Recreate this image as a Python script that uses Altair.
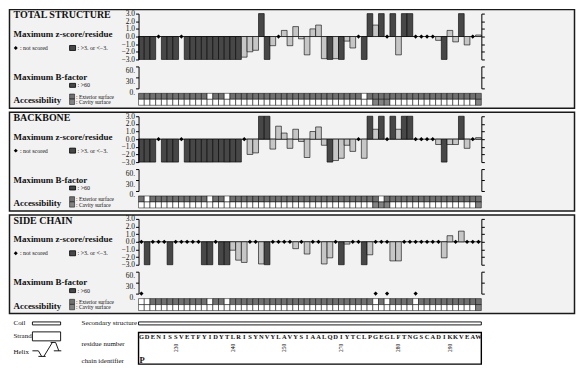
import altair as alt
import pandas as pd

# ---------------- data ----------------
residues = list("GDENISSVETFYIDYTLRISYNVYLAVYSIAALQDIYTCLPGEGLFTNGSCADIKKVEAW")
N = len(residues)

# maximum z-score per residue (None = not scored)
z_total = [-3, -3, -3, None, -3, -3, -3, None,
           -3, -3, -3, -3, -3, -3, -3, -3, -3, -3,
           -2.7, -2.0, -1.8, 3, -3, -1.2, None, 0.8, -1.2, 1.3,
           -0.3, -2.4, 1.0, 1.5, -2.9, -3, -2.9, -3, -0.6, -1.5,
           None, -3, 3, 1.5, 3, None, 3, -2.4, 3, 3,
           None, None, None, None, -0.5, -3, 0.8, -0.7, 3, -1.1, None, 0.2]
z_backbone = [-3, -3, -3, None, -3, -3, -3, None,
              -3, -3, -3, -3, -3, -3, -3, -3, -3, -3,
              None, -2.0, -1.8, 3, 3, -1.3, 1.7, 0.8, -1.2, 1.3,
              -0.3, -2.4, 1.0, 1.6, -0.8, -3, -2.8, -2.5, -0.8, -1.6,
              None, -2.5, 3, 1.3, 3, None, 3, 1.3, 3, 3,
              None, None, None, None, -0.7, -3, -0.7, -0.7, 3, -1.2, None, 0.2]
z_side = [None, -3, None, None, None, -3, None, None, None, None,
          None, -3, -3, None, -3, -3, -1.1, -2.4, -2.7, None,
          None, -2.9, -3, None, None, None, None, -0.9, None, -1.6,
          None, None, -2.9, -2.1, None, -3, -0.3, None, None, -3,
          -1.7, None, None, None, -2.5, -2.5, None, None, None, None,
          None, None, None, -2.1, 0.8, None, 1.4, None, None, None]

# B-factor not scored (side chain of glycines)
bfac_missing_total = []
bfac_missing_backbone = []
bfac_missing_side = [0, 41, 43, 48]

# accessibility flags (1 = exterior surface / cavity surface)
ext_total = [1, 1, 1, 1, 1, 1, 1, 1, 1, 1,
             1, 1, 0, 1, 1, 0, 1, 1, 1, 1,
             1, 1, 1, 1, 1, 1, 1, 1, 1, 1,
             1, 1, 1, 1, 1, 1, 1, 1, 1, 0,
             1, 1, 1, 1, 1, 1, 1, 1, 1, 1,
             1, 1, 1, 1, 1, 1, 1, 1, 1, 1]
cav_total = [0, 0, 0, 0, 0, 0, 0, 0, 0, 0,
             0, 0, 0, 0, 0, 0, 0, 0, 0, 0,
             0, 0, 0, 0, 0, 0, 0, 0, 0, 0,
             0, 0, 0, 0, 0, 0, 0, 0, 0, 0,
             0, 1, 1, 1, 0, 0, 0, 0, 0, 0,
             0, 0, 0, 0, 0, 0, 0, 0, 0, 1]
ext_backbone = [1, 0, 1, 1, 1, 1, 1, 1, 1, 1,
                1, 1, 0, 1, 1, 0, 1, 1, 1, 1,
                1, 1, 1, 1, 1, 1, 1, 1, 1, 1,
                1, 1, 1, 1, 1, 1, 1, 1, 1, 1,
                1, 1, 0, 1, 1, 1, 1, 1, 1, 1,
                1, 1, 1, 1, 1, 1, 1, 1, 1, 1]
cav_backbone = [0, 0, 0, 0, 0, 0, 0, 0, 0, 0,
                0, 0, 0, 0, 0, 0, 0, 0, 0, 0,
                0, 0, 0, 0, 0, 0, 0, 0, 0, 0,
                0, 0, 0, 0, 0, 0, 0, 0, 0, 0,
                0, 1, 1, 1, 0, 0, 0, 0, 0, 0,
                0, 0, 0, 0, 0, 0, 0, 0, 0, 1]
ext_side = [0, 0, 1, 1, 1, 1, 1, 1, 1, 1,
            1, 1, 0, 1, 1, 0, 1, 1, 1, 1,
            1, 1, 1, 1, 1, 1, 1, 1, 1, 1,
            1, 1, 1, 1, 1, 1, 1, 1, 1, 1,
            1, 0, 1, 0, 1, 1, 1, 1, 0, 1,
            1, 1, 1, 1, 1, 1, 1, 1, 1, 1]
cav_side = [0, 0, 0, 0, 0, 0, 0, 0, 0, 0,
            0, 0, 0, 0, 0, 0, 0, 0, 0, 0,
            0, 0, 0, 0, 0, 0, 0, 0, 0, 0,
            0, 0, 0, 0, 0, 0, 0, 0, 0, 0,
            0, 0, 0, 0, 0, 0, 0, 0, 0, 0,
            0, 0, 0, 0, 0, 0, 0, 0, 0, 1]

# secondary structure segments (whole chain is coil)
ss_type = ["coil"]
ss_start = [0]
ss_end = [60]

# residue-number labels and the residue index they sit on
res_label_text = ["230", "240", "250", "270", "280", "290"]
res_label_index = [6, 16, 25, 35, 45, 54]
chain_id = "P"

# ---------------- styling ----------------
FONT = "Liberation Serif"
W = 344
ZH, BH, AH = 46, 22, 12
DARK, LIGHT = "#474747", "#c6c6c6"
EXT, CAV = "#707070", "#828282"
PANEL = "#f2f2f2"
INK = "#111111"

one = pd.DataFrame({"k": [0]})
xs = alt.Scale(domain=[0, N], nice=False, zero=False)


def vtext(s, x, y, size, bold=False, baseline="middle", align="left", angle=0):
    return alt.Chart(one).mark_text(
        text=s, align=align, baseline=baseline, font=FONT, fontSize=size,
        fontWeight="bold" if bold else "normal", color=INK, angle=angle
    ).encode(x=alt.value(x), y=alt.value(y))


def vrect(x, x2, y, y2, fill, stroke="black", sw=0.8):
    return alt.Chart(one).mark_rect(fill=fill, stroke=stroke, strokeWidth=sw).encode(
        x=alt.value(x), x2=alt.value(x2), y=alt.value(y), y2=alt.value(y2))


def vseg(x, x2, y, y2, sw=0.9):
    return alt.Chart(one).mark_rule(color="black", strokeWidth=sw).encode(
        x=alt.value(x), x2=alt.value(x2), y=alt.value(y), y2=alt.value(y2))


def spacer(h):
    return alt.Chart(one).mark_point(opacity=0).encode(
        x=alt.value(0), y=alt.value(0)).properties(width=W, height=h)


def axis_kw():
    return dict(title=None, grid=False, labelFont=FONT, labelColor=INK,
                tickColor="black", domainColor="black", tickSize=3,
                labelPadding=1, labelOverlap=False, zindex=1)


TX = -125.5


def z_chart(title, zvals):
    df = pd.DataFrame({"x0": list(range(N)), "z": zvals})
    df["x1"] = df["x0"] + 1
    df["xc"] = df["x0"] + 0.5
    df["zero"] = 0.0
    base = alt.Chart(df)
    ys = alt.Scale(domain=[-3, 3], nice=False, zero=False)
    ticks = [-3, -2, -1, 0, 1, 2, 3]
    left = alt.Axis(orient="left", values=ticks, format=".1f", labelFontSize=7.5, **axis_kw())
    right = alt.Axis(orient="right", values=ticks, labels=False, **axis_kw())
    X = lambda f: alt.X(f, scale=xs, axis=None)

    box = vrect(-129.5, 437.5, -4, 95, PANEL, "#1a1a1a", 1.5)
    zero = base.mark_rule(color="black", strokeWidth=0.8).encode(
        x=X("x0:Q"), x2="x1:Q", y=alt.Y("zero:Q", scale=ys, axis=None))
    bars = base.transform_filter("isValid(datum.z)").mark_rect(
        stroke="black", strokeWidth=0.6).encode(
        x=X("x0:Q"), x2="x1:Q",
        y=alt.Y("z:Q", scale=ys, axis=left), y2="zero:Q",
        fill=alt.condition("abs(datum.z) >= 3", alt.value(DARK), alt.value(LIGHT)))
    diam = base.transform_filter("!isValid(datum.z)").mark_point(
        shape="diamond", filled=True, color="black", size=18, opacity=1).encode(
        x=X("xc:Q"), y=alt.Y("zero:Q", scale=ys, axis=None))
    raxis = base.mark_point(opacity=0).encode(
        x=X("xc:Q"), y=alt.Y("zero:Q", scale=ys, axis=right))

    layers = [box, zero, bars, diam, raxis,
              vtext(title, TX, 4.8, 10, bold=True, baseline="alphabetic"),
              vtext("Maximum z-score/residue", TX, 23.5, 9, bold=True, baseline="alphabetic"),
              alt.Chart(one).mark_point(shape="diamond", filled=True, color="black",
                                        size=16, opacity=1).encode(x=alt.value(-123.2), y=alt.value(34.5)),
              vtext(": not scored", -119, 34.5, 6),
              vrect(-69.2, -63.2, 32, 37, DARK),
              vtext(": >3. or <\u22123.", -61.2, 34.5, 6)]
    return alt.layer(*layers).resolve_axis(y="independent").properties(width=W, height=ZH)


def b_chart(missing):
    df = pd.DataFrame({"xc": [i + 0.5 for i in range(N)], "zero": [0.0] * N,
                       "missing": [1 if i in missing else 0 for i in range(N)]})
    base = alt.Chart(df)
    ys = alt.Scale(domain=[0, 60], nice=False, zero=True)
    vals = [0, 30, 60]
    left = alt.Axis(orient="left", values=vals, labelExpr="datum.value + '.'",
                    labelFontSize=7.5, labelBaseline="top", **axis_kw())
    right = alt.Axis(orient="right", values=vals, labels=False, **axis_kw())
    xaxis = alt.Axis(orient="bottom", labels=False, ticks=False, title=None,
                     grid=False, domainColor="black", zindex=1)
    la = base.mark_point(opacity=0).encode(
        x=alt.X("xc:Q", scale=xs, axis=xaxis), y=alt.Y("zero:Q", scale=ys, axis=left))
    ra = base.mark_point(opacity=0).encode(
        x=alt.X("xc:Q", scale=xs, axis=None), y=alt.Y("zero:Q", scale=ys, axis=right))
    dm = base.transform_filter("datum.missing == 1").mark_point(
        shape="diamond", filled=True, color="black", size=18, opacity=1).encode(
        x=alt.X("xc:Q", scale=xs, axis=None), y=alt.Y("zero:Q", scale=ys, axis=None))
    layers = [la, ra, dm,
              vtext("Maximum B-factor", TX, 13.5, 9, bold=True, baseline="alphabetic"),
              vrect(-69.2, -63.2, 17, 21, DARK),
              vtext(": >60", -61.2, 19, 6)]
    return alt.layer(*layers).resolve_axis(y="independent").properties(width=W, height=BH)


def acc_chart(ext, cav):
    rows = []
    for i in range(N):
        rows.append({"x0": i, "x1": i + 1, "r0": 0, "r1": 1, "state": "ext" if ext[i] else "none"})
        rows.append({"x0": i, "x1": i + 1, "r0": 1, "r1": 2, "state": "cav" if cav[i] else "none"})
    df = pd.DataFrame(rows)
    ys = alt.Scale(domain=[0, 2], reverse=True, nice=False, zero=False)
    cells = alt.Chart(df).mark_rect(stroke="black", strokeWidth=0.5).encode(
        x=alt.X("x0:Q", scale=xs, axis=None), x2="x1:Q",
        y=alt.Y("r0:Q", scale=ys, axis=None), y2="r1:Q",
        fill=alt.Color("state:N", legend=None,
                       scale=alt.Scale(domain=["ext", "cav", "none"], range=[EXT, CAV, "white"])))
    layers = [cells,
              vtext("Accessibility", TX, 10, 9, bold=True, baseline="alphabetic"),
              vrect(-69.2, -64.2, 0.7, 5.7, EXT, sw=0.5),
              vrect(-69.2, -64.2, 5.9, 11.2, CAV, sw=0.5),
              vtext(": Exterior surface", -62.7, 3.2, 5.5),
              vtext(": Cavity surface", -62.7, 8.6, 5.5)]
    return alt.layer(*layers).properties(width=W, height=AH)


def bottom_chart():
    ss = pd.DataFrame({"type": ss_type, "s": ss_start, "e": ss_end})
    seq = pd.DataFrame({"res": residues, "xc": [i + 0.5 for i in range(N)]})
    lab = pd.DataFrame({"t": res_label_text, "xc": [i + 0.5 for i in res_label_index]})
    box = pd.DataFrame({"s": [0], "e": [N]})
    ssbar = alt.Chart(ss).mark_rect(fill="white", stroke="black", strokeWidth=0.9).encode(
        x=alt.X("s:Q", scale=xs, axis=None), x2="e:Q", y=alt.value(3.4), y2=alt.value(6.4))
    seqbox = alt.Chart(box).mark_rect(fill="white", stroke="black", strokeWidth=1.4).encode(
        x=alt.X("s:Q", scale=xs, axis=None), x2="e:Q", y=alt.value(14), y2=alt.value(45.7))
    letters = alt.Chart(seq).mark_text(font=FONT, fontSize=6.5, fontWeight="bold",
                                       color=INK, baseline="middle").encode(
        x=alt.X("xc:Q", scale=xs, axis=None), y=alt.value(19), text="res:N")
    labels = alt.Chart(lab).mark_text(font=FONT, fontSize=5.5, color=INK, angle=270,
                                      baseline="middle", align="center").encode(
        x=alt.X("xc:Q", scale=xs, axis=None), y=alt.value(29.5), text="t:N")
    layers = [ssbar, seqbox, letters, labels,
              vtext(chain_id, 1, 41.8, 8.5, bold=True),
              vtext("Coil", TX, 4.5, 7),
              vrect(-106.5, -78.2, 3.4, 6.4, "white", sw=0.9),
              vtext("Secondary structure", -57.2, 4.8, 7),
              vtext("Strand", TX, 17.6, 7),
              vrect(-106.5, -78.2, 13.4, 22.4, "white", sw=0.9),
              vtext("Helix", TX, 33.4, 7),
              vseg(-106.5, -100.5, 32.4, 32.4),
              vseg(-100.5, -97.2, 32.4, 38),
              vseg(-100.5, -93.2, 38, 38),
              vseg(-95, -86.5, 38, 24),
              vseg(-88.2, -83.2, 24, 24),
              vseg(-83.2, -80, 24, 32.4),
              vseg(-85, -77.5, 32.4, 32.4),
              vtext("residue number", -57.2, 25.7, 7),
              vtext("chain identifier", -57.2, 42.4, 7)]
    return alt.layer(*layers).properties(width=W, height=46)


rows = []
panels = [("TOTAL STRUCTURE", z_total, bfac_missing_total, ext_total, cav_total),
          ("BACKBONE", z_backbone, bfac_missing_backbone, ext_backbone, cav_backbone),
          ("SIDE CHAIN", z_side, bfac_missing_side, ext_side, cav_side)]
for k, (title, zv, bm, ex, cv) in enumerate(panels):
    rows += [z_chart(title, zv), spacer(7), b_chart(bm), spacer(5), acc_chart(ex, cv)]
    rows.append(spacer(11 if k < 2 else 8))
rows.append(bottom_chart())

chart = alt.vconcat(*rows, spacing=0, bounds="flush").properties(
    padding=0, background="white"
).configure_view(stroke="transparent", strokeWidth=0)

chart.save("out.html", embed_options={"renderer": "svg", "actions": False})
